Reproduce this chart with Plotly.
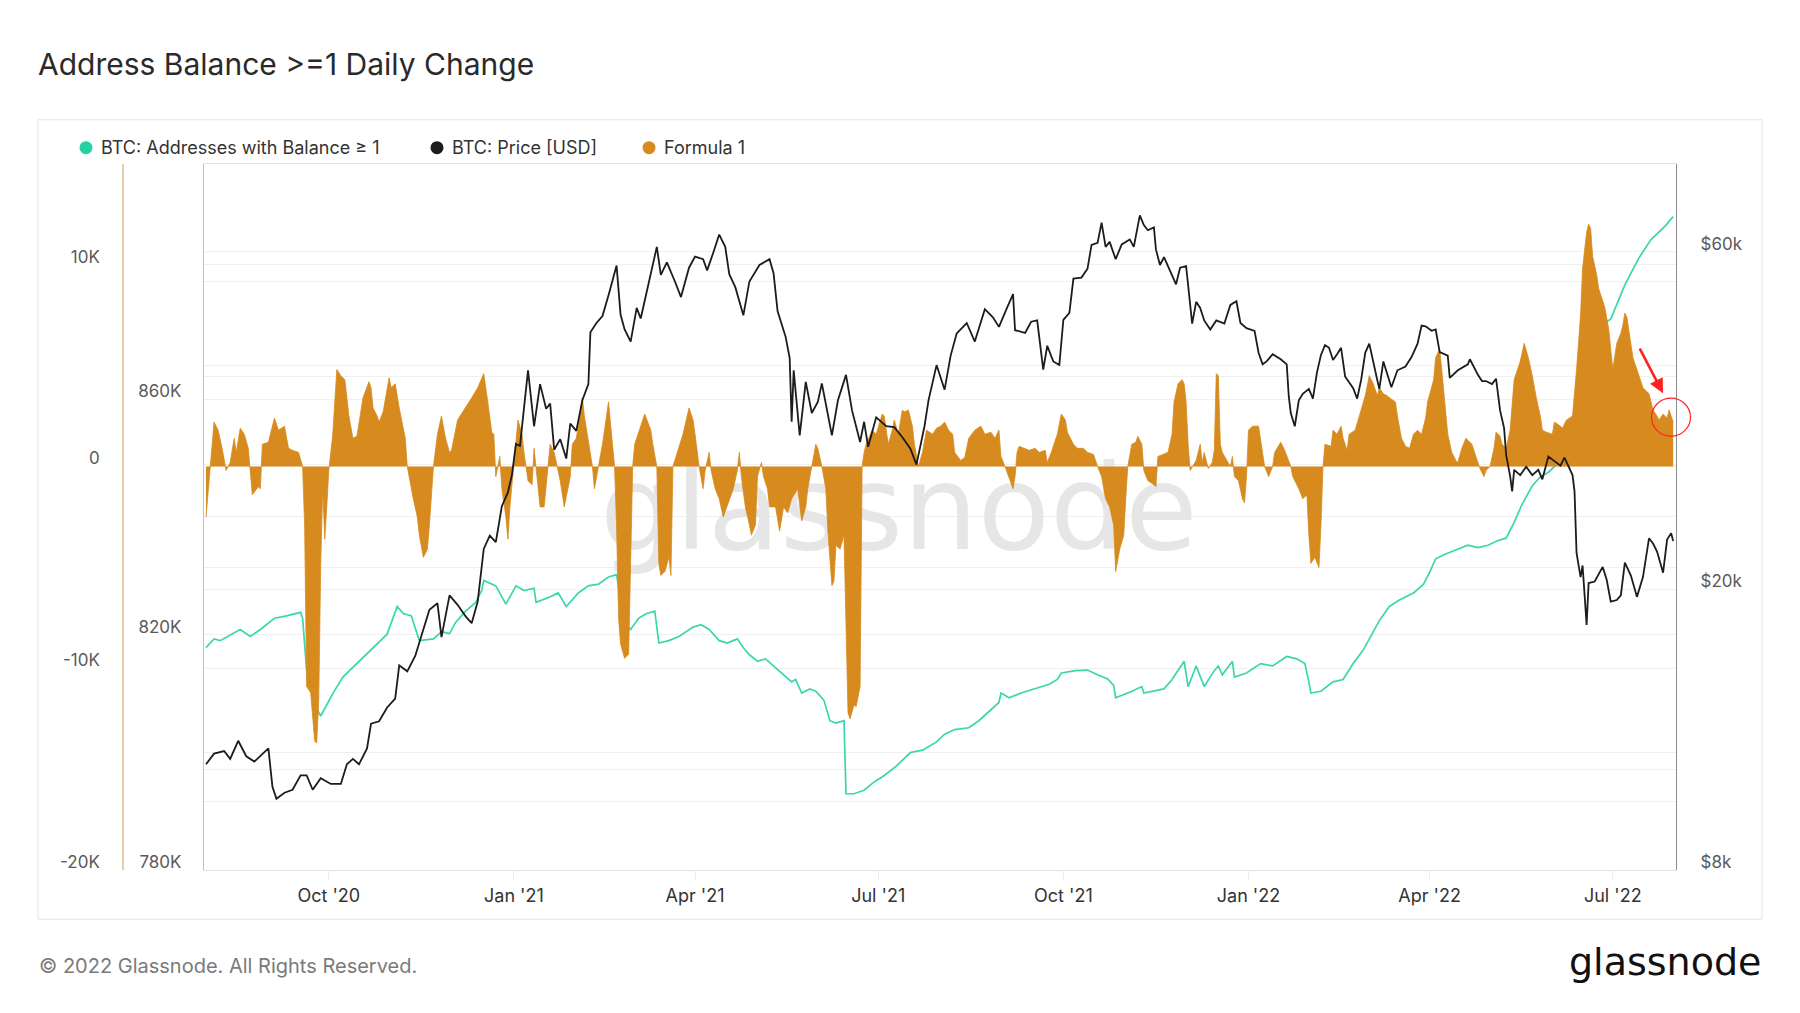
import math
import plotly.graph_objects as go

W, H = 1800, 1013

# ---------------- data ----------------
addr_dates = [
    "2020-08-01", "2020-08-05", "2020-08-08", "2020-08-18", "2020-08-23", "2020-08-28",
    "2020-09-04", "2020-09-10", "2020-09-17", "2020-09-18", "2020-09-20", "2020-09-24",
    "2020-09-27", "2020-10-03", "2020-10-08", "2020-10-15", "2020-10-23", "2020-10-30",
    "2020-11-04", "2020-11-07", "2020-11-11", "2020-11-15", "2020-11-22", "2020-11-26",
    "2020-11-30", "2020-12-03", "2020-12-08", "2020-12-13", "2020-12-16", "2020-12-17",
    "2020-12-23", "2020-12-28", "2021-01-02", "2021-01-06", "2021-01-11", "2021-01-12",
    "2021-01-18", "2021-01-23", "2021-01-27", "2021-02-02", "2021-02-07", "2021-02-12",
    "2021-02-17", "2021-02-21", "2021-02-23", "2021-02-25", "2021-02-28", "2021-03-04",
    "2021-03-08", "2021-03-12", "2021-03-14", "2021-03-19", "2021-03-24", "2021-03-31",
    "2021-04-04", "2021-04-08", "2021-04-13", "2021-04-17", "2021-04-22", "2021-04-25",
    "2021-04-28", "2021-05-02", "2021-05-06", "2021-05-10", "2021-05-15", "2021-05-19",
    "2021-05-21", "2021-05-24", "2021-05-28", "2021-05-31", "2021-06-04", "2021-06-07",
    "2021-06-10", "2021-06-14", "2021-06-15", "2021-06-19", "2021-06-24", "2021-06-29",
    "2021-07-04", "2021-07-10", "2021-07-17", "2021-07-23", "2021-07-30", "2021-08-03",
    "2021-08-08", "2021-08-15", "2021-08-20", "2021-08-25", "2021-08-30", "2021-08-31",
    "2021-09-04", "2021-09-10", "2021-09-17", "2021-09-24", "2021-09-28", "2021-09-30",
    "2021-10-07", "2021-10-13", "2021-10-18", "2021-10-23", "2021-10-26", "2021-10-27",
    "2021-11-04", "2021-11-09", "2021-11-10", "2021-11-15", "2021-11-20", "2021-11-24",
    "2021-11-28", "2021-11-30", "2021-12-02", "2021-12-06", "2021-12-10", "2021-12-15",
    "2021-12-17", "2021-12-19", "2021-12-24", "2021-12-25", "2021-12-31", "2022-01-07",
    "2022-01-13", "2022-01-20", "2022-01-25", "2022-01-29", "2022-01-31", "2022-02-01",
    "2022-02-06", "2022-02-12", "2022-02-17", "2022-02-22", "2022-02-27", "2022-03-04",
    "2022-03-07", "2022-03-12", "2022-03-17", "2022-03-24", "2022-03-29", "2022-04-01",
    "2022-04-04", "2022-04-09", "2022-04-15", "2022-04-20", "2022-04-25", "2022-04-30",
    "2022-05-05", "2022-05-09", "2022-05-13", "2022-05-17", "2022-05-22", "2022-05-26",
    "2022-05-30", "2022-06-04", "2022-06-09", "2022-06-28", "2022-06-30", "2022-07-07",
    "2022-07-14", "2022-07-20", "2022-07-27", "2022-07-31",
]
addr_k = [
    817.8, 819.3, 819.0, 820.9, 819.7, 820.9,
    822.8, 823.2, 823.8, 822.8, 814.0, 808.0,
    806.2, 810.0, 812.8, 815.1, 817.8, 820.1,
    824.8, 823.6, 823.2, 819.0, 819.3, 820.5,
    820.2, 822.1, 824.0, 825.5, 827.5, 829.2,
    828.3, 825.2, 828.3, 827.5, 827.9, 825.5,
    826.3, 827.1, 824.8, 827.1, 828.3, 828.6,
    829.8, 830.2, 826.0, 822.0, 820.9, 822.8,
    823.6, 824.0, 818.6, 819.0, 819.7, 821.3,
    821.7, 820.9, 819.0, 818.6, 819.3, 817.8,
    816.6, 815.5, 815.9, 814.7, 813.2, 812.0,
    812.4, 810.1, 810.8, 810.4, 808.9, 805.4,
    805.0, 805.4, 793.0, 793.0, 793.6, 795.0,
    796.1, 797.7, 800.0, 800.4, 801.8, 803.1,
    803.9, 804.2, 805.4, 807.0, 808.5, 810.1,
    809.3, 810.1, 810.8, 811.6, 812.4, 813.5,
    813.9, 814.0, 813.2, 812.5, 811.4, 809.3,
    810.4, 811.2, 810.1, 810.4, 810.8, 812.4,
    814.5, 815.5, 811.2, 814.7, 811.2, 813.9,
    814.7, 813.2, 815.5, 812.8, 813.5, 815.1,
    814.7, 816.3, 815.9, 815.1, 812.0, 810.1,
    810.4, 812.0, 812.4, 815.1, 817.4, 820.5,
    822.4, 824.8, 825.9, 827.1, 828.6, 830.6,
    832.9, 833.7, 834.5, 835.2, 834.8, 835.2,
    836.0, 836.4, 839.1, 842.2, 845.3, 846.8,
    847.6, 849.2, 849.6, 873.2, 873.6, 879.4,
    884.0, 887.1, 889.4, 891.0,
]

f_dates = [
    "2020-08-01", "2020-08-03", "2020-08-05", "2020-08-07", "2020-08-09", "2020-08-11",
    "2020-08-13", "2020-08-15", "2020-08-16", "2020-08-18", "2020-08-20", "2020-08-22",
    "2020-08-23", "2020-08-24", "2020-08-27", "2020-08-28", "2020-08-29", "2020-09-01",
    "2020-09-04", "2020-09-06", "2020-09-09", "2020-09-11", "2020-09-13", "2020-09-16",
    "2020-09-18", "2020-09-19", "2020-09-20", "2020-09-22", "2020-09-24", "2020-09-25",
    "2020-09-26", "2020-09-27", "2020-09-28", "2020-09-29", "2020-09-30", "2020-10-01",
    "2020-10-03", "2020-10-05", "2020-10-07", "2020-10-09", "2020-10-11", "2020-10-13",
    "2020-10-15", "2020-10-18", "2020-10-21", "2020-10-22", "2020-10-23", "2020-10-25",
    "2020-10-26", "2020-10-28", "2020-10-31", "2020-11-01", "2020-11-03", "2020-11-05",
    "2020-11-08", "2020-11-09", "2020-11-12", "2020-11-14", "2020-11-15", "2020-11-17",
    "2020-11-19", "2020-11-20", "2020-11-22", "2020-11-24", "2020-11-26", "2020-11-28",
    "2020-11-30", "2020-12-01", "2020-12-04", "2020-12-08", "2020-12-11", "2020-12-14",
    "2020-12-17", "2020-12-19", "2020-12-21", "2020-12-22", "2020-12-23", "2020-12-25",
    "2020-12-26", "2020-12-28", "2020-12-29", "2020-12-30", "2021-01-01", "2021-01-03",
    "2021-01-05", "2021-01-06", "2021-01-08", "2021-01-10", "2021-01-11", "2021-01-12",
    "2021-01-14", "2021-01-16", "2021-01-19", "2021-01-21", "2021-01-24", "2021-01-26",
    "2021-01-29", "2021-01-30", "2021-02-01", "2021-02-04", "2021-02-05", "2021-02-09",
    "2021-02-10", "2021-02-12", "2021-02-14", "2021-02-17", "2021-02-18", "2021-02-20",
    "2021-02-21", "2021-02-22", "2021-02-23", "2021-02-25", "2021-02-27", "2021-02-28",
    "2021-03-01", "2021-03-02", "2021-03-05", "2021-03-07", "2021-03-10", "2021-03-11",
    "2021-03-13", "2021-03-14", "2021-03-15", "2021-03-17", "2021-03-19", "2021-03-20",
    "2021-03-21", "2021-03-24", "2021-03-26", "2021-03-29", "2021-03-31", "2021-04-01",
    "2021-04-02", "2021-04-03", "2021-04-05", "2021-04-06", "2021-04-08", "2021-04-09",
    "2021-04-11", "2021-04-13", "2021-04-15", "2021-04-18", "2021-04-20", "2021-04-22",
    "2021-04-23", "2021-04-24", "2021-04-26", "2021-04-28", "2021-04-29", "2021-05-01",
    "2021-05-02", "2021-05-04", "2021-05-05", "2021-05-07", "2021-05-08", "2021-05-11",
    "2021-05-13", "2021-05-15", "2021-05-17", "2021-05-19", "2021-05-22", "2021-05-24",
    "2021-05-26", "2021-05-27", "2021-05-29", "2021-05-31", "2021-06-01", "2021-06-03",
    "2021-06-05", "2021-06-06", "2021-06-08", "2021-06-09", "2021-06-10", "2021-06-12",
    "2021-06-14", "2021-06-15", "2021-06-16", "2021-06-17", "2021-06-19", "2021-06-20",
    "2021-06-22", "2021-06-23", "2021-06-24", "2021-06-25", "2021-06-28", "2021-06-30",
    "2021-07-03", "2021-07-04", "2021-07-06", "2021-07-08", "2021-07-09", "2021-07-11",
    "2021-07-13", "2021-07-14", "2021-07-16", "2021-07-18", "2021-07-19", "2021-07-21",
    "2021-07-23", "2021-07-25", "2021-07-28", "2021-07-30", "2021-08-01", "2021-08-03",
    "2021-08-05", "2021-08-07", "2021-08-08", "2021-08-11", "2021-08-13", "2021-08-15",
    "2021-08-18", "2021-08-21", "2021-08-23", "2021-08-26", "2021-08-28", "2021-08-30",
    "2021-08-31", "2021-09-02", "2021-09-04", "2021-09-06", "2021-09-07", "2021-09-08",
    "2021-09-09", "2021-09-12", "2021-09-14", "2021-09-17", "2021-09-19", "2021-09-22",
    "2021-09-23", "2021-09-25", "2021-09-28", "2021-09-30", "2021-10-02", "2021-10-03",
    "2021-10-06", "2021-10-08", "2021-10-11", "2021-10-13", "2021-10-16", "2021-10-18",
    "2021-10-20", "2021-10-22", "2021-10-24", "2021-10-26", "2021-10-27", "2021-10-29",
    "2021-10-31", "2021-11-01", "2021-11-02", "2021-11-04", "2021-11-06", "2021-11-07",
    "2021-11-09", "2021-11-10", "2021-11-12", "2021-11-15", "2021-11-16", "2021-11-17",
    "2021-11-20", "2021-11-22", "2021-11-24", "2021-11-25", "2021-11-27", "2021-11-29",
    "2021-11-30", "2021-12-01", "2021-12-02", "2021-12-03", "2021-12-06", "2021-12-08",
    "2021-12-09", "2021-12-10", "2021-12-12", "2021-12-14", "2021-12-15", "2021-12-16",
    "2021-12-17", "2021-12-18", "2021-12-19", "2021-12-23", "2021-12-24", "2021-12-25",
    "2021-12-27", "2021-12-29", "2021-12-30", "2021-12-31", "2022-01-01", "2022-01-03",
    "2022-01-06", "2022-01-08", "2022-01-09", "2022-01-11", "2022-01-13", "2022-01-14",
    "2022-01-17", "2022-01-19", "2022-01-22", "2022-01-23", "2022-01-26", "2022-01-28",
    "2022-01-30", "2022-01-31", "2022-02-01", "2022-02-03", "2022-02-05", "2022-02-06",
    "2022-02-07", "2022-02-08", "2022-02-11", "2022-02-12", "2022-02-14", "2022-02-16",
    "2022-02-17", "2022-02-19", "2022-02-20", "2022-02-23", "2022-02-25", "2022-02-26",
    "2022-02-28", "2022-03-02", "2022-03-04", "2022-03-06", "2022-03-07", "2022-03-09",
    "2022-03-11", "2022-03-12", "2022-03-15", "2022-03-16", "2022-03-18", "2022-03-20",
    "2022-03-22", "2022-03-24", "2022-03-26", "2022-03-28", "2022-03-30", "2022-03-31",
    "2022-04-03", "2022-04-04", "2022-04-06", "2022-04-07", "2022-04-09", "2022-04-10",
    "2022-04-12", "2022-04-14", "2022-04-15", "2022-04-17", "2022-04-19", "2022-04-22",
    "2022-04-24", "2022-04-26", "2022-04-28", "2022-04-29", "2022-05-01", "2022-05-03",
    "2022-05-04", "2022-05-06", "2022-05-07", "2022-05-09", "2022-05-11", "2022-05-13",
    "2022-05-16", "2022-05-18", "2022-05-20", "2022-05-22", "2022-05-24", "2022-05-26",
    "2022-05-27", "2022-05-29", "2022-06-01", "2022-06-02", "2022-06-05", "2022-06-06",
    "2022-06-08", "2022-06-11", "2022-06-13", "2022-06-15", "2022-06-16", "2022-06-18",
    "2022-06-19", "2022-06-20", "2022-06-21", "2022-06-23", "2022-06-24", "2022-06-27",
    "2022-06-29", "2022-06-30", "2022-07-01", "2022-07-03", "2022-07-05", "2022-07-06",
    "2022-07-07", "2022-07-08", "2022-07-10", "2022-07-11", "2022-07-14", "2022-07-16",
    "2022-07-19", "2022-07-21", "2022-07-23", "2022-07-24", "2022-07-26", "2022-07-28",
    "2022-07-29", "2022-07-30", "2022-07-31",
]
f_k = [
    -2.5, -0.2, 2.2, 1.8, 0.9, -0.2,
    0.2, 1.4, 0.7, 1.9, 1.6, 0.9,
    -0.5, -1.4, -1.0, -1.1, 1.1, 1.2,
    2.4, 1.8, 2.0, 0.9, 0.8, 0.7,
    0.0, -2.9, -10.9, -11.2, -13.6, -13.7,
    -11.6, -4.8, -1.1, -3.6, -2.0, -0.2,
    1.6, 4.8, 4.5, 4.3, 2.5, 1.4,
    1.5, 3.4, 4.2, 3.9, 2.9, 2.5,
    2.2, 2.7, 4.4, 3.9, 4.1, 2.9,
    1.4, 0.0, -1.6, -2.5, -3.4, -4.5,
    -4.1, -2.9, 0.0, 1.6, 2.5, 1.4,
    0.7, 0.8, 2.3, 2.9, 3.4, 3.9,
    4.6, 3.2, 1.7, 1.6, -0.5, 0.5,
    -1.1, -2.5, -3.6, -2.0, 0.0, 2.3,
    1.6, 0.7, -0.7, -0.9, 0.9, -0.2,
    -2.0, -2.0, 1.1, 0.7, -0.7, -2.0,
    -0.5, 1.1, 1.4, 3.4, 2.5, 0.0,
    -1.1, 0.0, 1.1, 3.2, 2.0, 0.0,
    -2.9, -7.5, -8.8, -9.5, -9.3, -5.2,
    0.0, 1.1, 2.0, 2.6, 1.8, 1.1,
    0.0, -4.8, -5.4, -5.2, -4.5, -5.4,
    0.0, 0.9, 1.6, 2.9, 2.3, 1.6,
    0.7, 0.0, -1.1, -0.2, 0.7, -0.2,
    -1.1, -1.6, -2.5, -1.6, -1.1, -0.2,
    0.7, -0.5, -2.0, -2.9, -3.4, -2.9,
    -0.5, 0.2, -0.5, -1.1, -2.0, -2.0,
    -3.2, -2.0, -2.3, -1.6, -1.1, -2.7,
    -2.0, -1.1, 0.0, 1.1, 0.9, 0.0,
    -1.1, -3.2, -5.9, -5.7, -3.9, -4.1,
    -3.4, -7.5, -12.2, -12.5, -11.8, -11.9,
    -10.9, 0.0, 0.7, 1.1, 1.8, 1.6,
    2.6, 2.5, 1.1, 1.8, 2.3, 1.6,
    2.8, 2.7, 2.8, 2.0, 1.1, 0.0,
    0.7, 1.8, 1.6, 1.9, 2.0, 2.2,
    1.8, 1.6, 0.7, 0.3, 0.45, 1.4,
    1.8, 2.0, 1.6, 1.7, 1.4, 1.8,
    0.5, 0.0, -0.5, -1.1, -0.5, 0.7,
    1.0, 0.9, 0.8, 0.9, 0.7, 0.8,
    0.2, 0.7, 1.6, 2.6, 2.3, 1.7,
    1.1, 0.9, 0.9, 0.7, 0.6, 0.0,
    -0.5, -1.6, -2.0, -2.9, -5.2, -4.1,
    -3.4, -1.6, 0.0, 1.1, 1.2, 1.5,
    1.1, -0.2, -0.7, -0.9, -1.0, 0.5,
    0.6, 0.7, 1.6, 3.2, 4.1, 4.3,
    4.1, 3.2, 1.1, -0.2, 0.3, 1.1,
    0.2, 0.7, -0.1, 0.2, 0.8, 4.6,
    4.5, 1.1, 0.7, 0.0, 0.5, -0.5,
    -0.7, -1.6, -1.8, -0.5, 1.8, 2.0,
    2.0, 0.7, 0.0, -0.5, 0.0, 0.7,
    1.2, 0.8, 0.0, -0.5, -1.1, -1.6,
    -1.4, -3.4, -4.8, -4.5, -5.0, -2.9,
    0.0, 1.1, 1.0, 1.8, 1.6, 2.0,
    1.4, 0.8, 1.6, 1.8, 2.5, 2.8,
    3.5, 4.5, 4.1, 3.5, 3.9, 3.6,
    3.5, 3.4, 3.2, 2.5, 1.4, 1.0,
    0.9, 1.6, 1.8, 1.6, 2.4, 3.2,
    4.3, 5.4, 5.8, 4.8, 2.9, 1.6,
    0.7, 0.3, 0.2, 0.9, 1.4, 1.1,
    0.5, -0.1, -0.5, -0.2, 0.0, 0.9,
    1.7, 1.5, 1.1, 0.9, 1.8, 4.3,
    5.2, 6.1, 5.4, 4.5, 3.4, 2.5,
    1.8, 1.7, 1.6, 2.2, 2.0, 1.9,
    2.3, 2.5, 4.8, 7.5, 9.8, 11.6,
    12.0, 11.8, 10.4, 9.5, 8.8, 7.9,
    6.8, 5.7, 4.8, 6.1, 6.6, 7.0,
    7.6, 7.4, 6.1, 5.4, 4.5, 3.9,
    3.6, 2.8, 2.5, 2.3, 2.6, 2.4,
    2.8, 2.5, 2.2,
]

price_dates = [
    "2020-08-01", "2020-08-05", "2020-08-10", "2020-08-13", "2020-08-17", "2020-08-21",
    "2020-08-25", "2020-08-29", "2020-09-01", "2020-09-03", "2020-09-05", "2020-09-09",
    "2020-09-13", "2020-09-17", "2020-09-20", "2020-09-23", "2020-09-27", "2020-10-02",
    "2020-10-07", "2020-10-10", "2020-10-13", "2020-10-16", "2020-10-20", "2020-10-22",
    "2020-10-26", "2020-10-30", "2020-11-03", "2020-11-05", "2020-11-09", "2020-11-13",
    "2020-11-17", "2020-11-20", "2020-11-24", "2020-11-26", "2020-11-30", "2020-12-04",
    "2020-12-08", "2020-12-11", "2020-12-14", "2020-12-16", "2020-12-17", "2020-12-20",
    "2020-12-23", "2020-12-26", "2020-12-29", "2020-12-31", "2021-01-02", "2021-01-04",
    "2021-01-06", "2021-01-08", "2021-01-11", "2021-01-14", "2021-01-17", "2021-01-19",
    "2021-01-21", "2021-01-24", "2021-01-27", "2021-01-29", "2021-02-01", "2021-02-04",
    "2021-02-07", "2021-02-08", "2021-02-11", "2021-02-14", "2021-02-17", "2021-02-21",
    "2021-02-23", "2021-02-25", "2021-02-28", "2021-03-03", "2021-03-05", "2021-03-09",
    "2021-03-13", "2021-03-15", "2021-03-18", "2021-03-22", "2021-03-25", "2021-03-29",
    "2021-04-01", "2021-04-05", "2021-04-07", "2021-04-10", "2021-04-13", "2021-04-16",
    "2021-04-18", "2021-04-21", "2021-04-25", "2021-04-28", "2021-05-03", "2021-05-08",
    "2021-05-10", "2021-05-12", "2021-05-16", "2021-05-18", "2021-05-19", "2021-05-20",
    "2021-05-23", "2021-05-26", "2021-05-29", "2021-06-01", "2021-06-03", "2021-06-08",
    "2021-06-11", "2021-06-15", "2021-06-18", "2021-06-22", "2021-06-24", "2021-06-26",
    "2021-06-30", "2021-07-05", "2021-07-09", "2021-07-13", "2021-07-17", "2021-07-20",
    "2021-07-24", "2021-07-26", "2021-07-30", "2021-08-03", "2021-08-06", "2021-08-09",
    "2021-08-14", "2021-08-18", "2021-08-23", "2021-08-27", "2021-08-30", "2021-09-03",
    "2021-09-06", "2021-09-07", "2021-09-12", "2021-09-15", "2021-09-18", "2021-09-21",
    "2021-09-23", "2021-09-26", "2021-09-29", "2021-10-01", "2021-10-04", "2021-10-06",
    "2021-10-10", "2021-10-13", "2021-10-15", "2021-10-18", "2021-10-20", "2021-10-22",
    "2021-10-24", "2021-10-27", "2021-10-30", "2021-11-03", "2021-11-05", "2021-11-08",
    "2021-11-10", "2021-11-12", "2021-11-15", "2021-11-16", "2021-11-18", "2021-11-20",
    "2021-11-23", "2021-11-26", "2021-11-28", "2021-12-01", "2021-12-04", "2021-12-06",
    "2021-12-08", "2021-12-10", "2021-12-13", "2021-12-16", "2021-12-20", "2021-12-23",
    "2021-12-26", "2021-12-28", "2021-12-31", "2022-01-04", "2022-01-06", "2022-01-08",
    "2022-01-10", "2022-01-13", "2022-01-17", "2022-01-20", "2022-01-21", "2022-01-22",
    "2022-01-24", "2022-01-26", "2022-01-28", "2022-01-31", "2022-02-02", "2022-02-04",
    "2022-02-06", "2022-02-08", "2022-02-10", "2022-02-12", "2022-02-14", "2022-02-16",
    "2022-02-18", "2022-02-22", "2022-02-24", "2022-02-26", "2022-02-28", "2022-03-02",
    "2022-03-06", "2022-03-07", "2022-03-09", "2022-03-13", "2022-03-16", "2022-03-20",
    "2022-03-23", "2022-03-26", "2022-03-28", "2022-03-30", "2022-04-02", "2022-04-04",
    "2022-04-06", "2022-04-10", "2022-04-11", "2022-04-15", "2022-04-20", "2022-04-21",
    "2022-04-25", "2022-04-27", "2022-04-29", "2022-05-02", "2022-05-04", "2022-05-06",
    "2022-05-08", "2022-05-09", "2022-05-11", "2022-05-12", "2022-05-13", "2022-05-16",
    "2022-05-19", "2022-05-22", "2022-05-25", "2022-05-27", "2022-05-30", "2022-06-02",
    "2022-06-05", "2022-06-07", "2022-06-10", "2022-06-11", "2022-06-12", "2022-06-13",
    "2022-06-15", "2022-06-16", "2022-06-18", "2022-06-19", "2022-06-22", "2022-06-24",
    "2022-06-26", "2022-06-28", "2022-06-30", "2022-07-03", "2022-07-05", "2022-07-07",
    "2022-07-10", "2022-07-13", "2022-07-16", "2022-07-19", "2022-07-21", "2022-07-23",
    "2022-07-26", "2022-07-28", "2022-07-30", "2022-07-31",
]
price_k = [
    11.3, 11.7, 11.8, 11.5, 12.2, 11.6,
    11.4, 11.7, 11.9, 10.5, 10.1, 10.3,
    10.4, 10.9, 10.9, 10.4, 10.8, 10.6,
    10.6, 11.3, 11.5, 11.3, 11.9, 12.9,
    13.0, 13.6, 14.0, 15.6, 15.3, 16.1,
    17.6, 18.7, 19.1, 17.1, 19.6, 19.0,
    18.3, 17.9, 19.2, 21.3, 22.8, 23.8,
    23.3, 26.2, 27.4, 29.0, 32.1, 31.9,
    36.5, 40.8, 34.0, 39.0, 36.0, 36.6,
    31.5, 32.6, 30.6, 34.3, 33.5, 37.0,
    39.0, 46.2, 47.6, 48.7, 52.1, 57.4,
    48.9, 46.6, 44.8, 50.0, 48.3, 54.3,
    61.0, 55.7, 58.0, 54.5, 51.8, 57.0,
    59.1, 58.6, 56.5, 59.8, 63.5, 61.0,
    55.8, 53.5, 48.8, 54.5, 57.5, 58.6,
    56.0, 49.5, 45.5, 42.5, 34.5, 40.8,
    33.0, 39.3, 35.5, 36.8, 39.1, 33.0,
    37.0, 40.2, 35.8, 32.3, 34.5, 31.8,
    35.0, 34.0, 33.9, 32.8, 31.6, 30.0,
    34.0, 37.0, 41.5, 38.3, 42.8, 46.0,
    47.6, 44.8, 49.8, 48.5, 47.0, 50.0,
    52.3, 46.5, 46.1, 47.8, 48.0, 40.9,
    44.2, 42.0, 41.5, 48.1, 49.2, 55.0,
    55.2, 56.8, 61.4, 61.8, 66.0, 61.0,
    62.0, 58.6, 61.5, 62.5, 61.0, 67.6,
    65.5, 64.4, 65.0, 60.5, 57.5, 59.0,
    56.5, 54.0, 57.0, 57.3, 47.5, 51.0,
    50.0, 48.0, 46.6, 48.0, 47.5, 50.5,
    51.1, 47.6, 46.8, 46.4, 43.2, 41.6,
    42.0, 43.0, 42.3, 41.6, 37.5, 35.5,
    34.0, 37.0, 37.8, 38.4, 37.2, 40.5,
    42.9, 44.3, 43.9, 42.2, 43.0, 43.9,
    40.0, 38.5, 37.2, 39.6, 43.2, 44.5,
    39.5, 38.4, 42.0, 38.6, 40.8, 41.3,
    42.6, 44.5, 47.2, 47.1, 46.4, 46.6,
    43.3, 42.8, 39.8, 40.8, 41.6, 42.3,
    40.2, 39.4, 39.4, 39.0, 39.7, 35.8,
    33.8, 31.0, 28.9, 27.5, 29.5, 29.0,
    29.8, 29.0, 29.5, 28.6, 30.8, 30.3,
    29.9, 30.7, 29.5, 29.0, 27.5, 22.5,
    20.8, 21.6, 17.8, 20.4, 20.5, 21.0,
    21.5, 20.6, 19.2, 19.3, 19.6, 21.8,
    20.9, 19.5, 20.8, 23.6, 23.2, 22.6,
    21.1, 23.5, 24.0, 23.4,
]

x_tickvals = ["2020-10-01", "2021-01-01", "2021-04-01", "2021-07-01",
              "2021-10-01", "2022-01-01", "2022-04-01", "2022-07-01"]
x_ticktext = ["Oct '20", "Jan '21", "Apr '21", "Jul '21",
              "Oct '21", "Jan '22", "Apr '22", "Jul '22"]
addr_tickvals = [780, 800, 820, 840, 860, 880, 900]
addr_ticktext = ["780K", "", "820K", "", "860K", "", ""]
f_tickvals = [-20, -15, -10, -5, 0, 5, 10, 15]
f_ticktext = ["-20K", "", "-10K", "", "0", "", "10K", ""]
price_tickvals = [8, 10, 20, 30, 40, 60]
price_ticktext = ["$8k", "", "$20k", "", "", "$60k"]

legend_names = ["BTC: Addresses with Balance \u2265 1", "BTC: Price [USD]", "Formula 1"]

# ---------------- styling ----------------
TEAL = "#3ad7ad"
TEAL_DOT = "#22d2a2"
ORANGE = "#d78a1d"
BLACK = "#1c1c1c"
GRID = "#f0f0f0"
FONT = "Inter"


def px(x):
    return x / W


def py(y):
    return 1 - y / H


L, R, T, B = 204, 1676, 164, 872

fig = go.Figure()

# watermark (drawn first, underneath everything)
fig.add_trace(go.Scatter(
    x=["2021-07-11 06:00"], y=[839.6], mode="text", text=["glassnode"],
    textfont=dict(family="DejaVu Sans", size=118, color="#e6e6e6"),
    textposition="middle center", hoverinfo="skip", showlegend=False,
    xaxis="x", yaxis="y",
))

fig.add_trace(go.Scatter(
    x=addr_dates, y=addr_k, mode="lines", name=legend_names[0],
    line=dict(color=TEAL, width=1.7), xaxis="x", yaxis="y", hoverinfo="skip",
))

fig.add_trace(go.Scatter(
    x=f_dates, y=f_k, mode="lines", name=legend_names[2], fill="tozeroy",
    line=dict(color=ORANGE, width=0.8), fillcolor=ORANGE,
    xaxis="x", yaxis="y2", hoverinfo="skip",
))

fig.add_trace(go.Scatter(
    x=price_dates, y=price_k, mode="lines", name=legend_names[1],
    line=dict(color=BLACK, width=1.8), xaxis="x", yaxis="y3", hoverinfo="skip",
))

tick_font = dict(family=FONT, size=17, color="#5a5a5a")
shift = -8  # labels sit a few pixels above their grid lines

fig.update_layout(
    width=W, height=H,
    margin=dict(l=0, r=0, t=0, b=0),
    paper_bgcolor="white", plot_bgcolor="white",
    showlegend=False, hovermode=False,
    font=dict(family=FONT, color="#333"),
    xaxis=dict(
        domain=[px(L), px(R)], type="date",
        range=["2020-07-31", "2022-08-01 10:00"],
        tickvals=x_tickvals, ticktext=x_ticktext,
        showgrid=False, zeroline=False,
        showline=True, linecolor="#e2e2e2", linewidth=1, mirror=True,
        ticks="outside", ticklen=9, tickcolor="#eeeeee",
        tickfont=dict(family=FONT, size=18, color="#333"),
    ),
    yaxis=dict(
        domain=[py(B), py(T)], range=[780, 900],
        tickvals=addr_tickvals, ticktext=addr_ticktext,
        showgrid=True, gridcolor=GRID, zeroline=False,
        showline=True, linecolor="#7ee2c7", linewidth=1.3,
        ticks="", ticklabelstandoff=18, ticklabelshift=shift,
        tickfont=tick_font, side="left",
    ),
    yaxis2=dict(
        overlaying="y", anchor="free", position=px(123), side="left",
        range=[-20, 15], tickvals=f_tickvals, ticktext=f_ticktext,
        showgrid=True, gridcolor=GRID, zeroline=False,
        showline=True, linecolor="#e6cfa8", linewidth=1.5,
        ticks="", ticklabelstandoff=19, ticklabelshift=shift,
        tickfont=tick_font,
    ),
    yaxis3=dict(
        overlaying="y", anchor="x", side="right", type="log",
        range=[math.log10(8), math.log10(80)],
        tickvals=price_tickvals, ticktext=price_ticktext,
        showgrid=True, gridcolor=GRID, zeroline=False,
        showline=True, linecolor="#8c8c8c", linewidth=1.2,
        ticks="", ticklabelstandoff=20, ticklabelshift=shift,
        tickfont=tick_font,
    ),
)

shapes = [
    # outer card frame
    dict(type="rect", xref="paper", yref="paper",
         x0=px(38), x1=px(1762), y0=py(921), y1=py(120),
         line=dict(color="#e3e3e3", width=1), fillcolor="rgba(0,0,0,0)", layer="below"),
    # red highlight circle
    dict(type="circle", xref="paper", yref="paper", xsizemode="pixel", ysizemode="pixel",
         xanchor=px(1671), yanchor=py(418), x0=-19.5, x1=19.5, y0=-19, y1=19,
         line=dict(color="#ff2424", width=1.2)),
]

legend_dot_x = [86, 437, 649]
legend_text_x = [99, 450, 662]
legend_colors = [TEAL_DOT, BLACK, ORANGE]
annotations = [
    dict(text="Address Balance >=1 Daily Change", xref="paper", yref="paper",
         x=px(36), y=py(64), xanchor="left", yanchor="middle", showarrow=False,
         font=dict(family=FONT, size=30, color="#2a2a2a")),
    dict(text="\u00a9 2022 Glassnode. All Rights Reserved.", xref="paper", yref="paper",
         x=px(37), y=py(968), xanchor="left", yanchor="middle", showarrow=False,
         font=dict(family=FONT, size=20, color="#7a7a7a")),
    dict(text="glassnode", xref="paper", yref="paper",
         x=px(1763), y=py(964), xanchor="right", yanchor="middle", showarrow=False,
         font=dict(family="DejaVu Sans", size=38, color="#111111")),
    dict(text="", xref="paper", yref="paper", x=px(1663), y=py(394),
         ax=-24, ay=-46, showarrow=True, arrowhead=2, arrowsize=1.1,
         arrowwidth=2.6, arrowcolor="#ff2020"),
]
for name, dx, tx, col in zip(legend_names, legend_dot_x, legend_text_x, legend_colors):
    shapes.append(dict(type="circle", xref="paper", yref="paper",
                       xsizemode="pixel", ysizemode="pixel",
                       xanchor=px(dx), yanchor=py(148), x0=-6.5, x1=6.5, y0=-6.5, y1=6.5,
                       fillcolor=col, line=dict(color=col, width=0)))
    annotations.append(dict(text=name, xref="paper", yref="paper",
                            x=px(tx), y=py(148), xanchor="left", yanchor="middle",
                            showarrow=False, font=dict(family=FONT, size=18, color="#333")))

fig.update_layout(shapes=shapes, annotations=annotations)

# Pin the figure to the window's top-left corner and size it to the actual window,
# so the picture fills the screen exactly whatever the viewport's height turns out to be.
page_fix = (
    "document.documentElement.style.margin='0';"
    "document.body.style.margin='0';"
    "document.documentElement.style.overflow='hidden';"
    "document.body.style.overflow='hidden';"
    "var gd=document.getElementById('{plot_id}');"
    "gd.style.position='fixed';gd.style.left='0px';gd.style.top='0px';"
    "function fitToWindow(){"
    "var w=window.innerWidth||1800, h=window.innerHeight||1013;"
    "gd.style.width=w+'px';gd.style.height=h+'px';"
    "if(gd.layout.width!==w||gd.layout.height!==h){Plotly.relayout(gd,{width:w,height:h});}"
    "}"
    "fitToWindow();"
    "window.addEventListener('resize', fitToWindow);"
)
fig.write_html(
    "out.html",
    config={"displayModeBar": False},
    post_script=page_fix,
)
